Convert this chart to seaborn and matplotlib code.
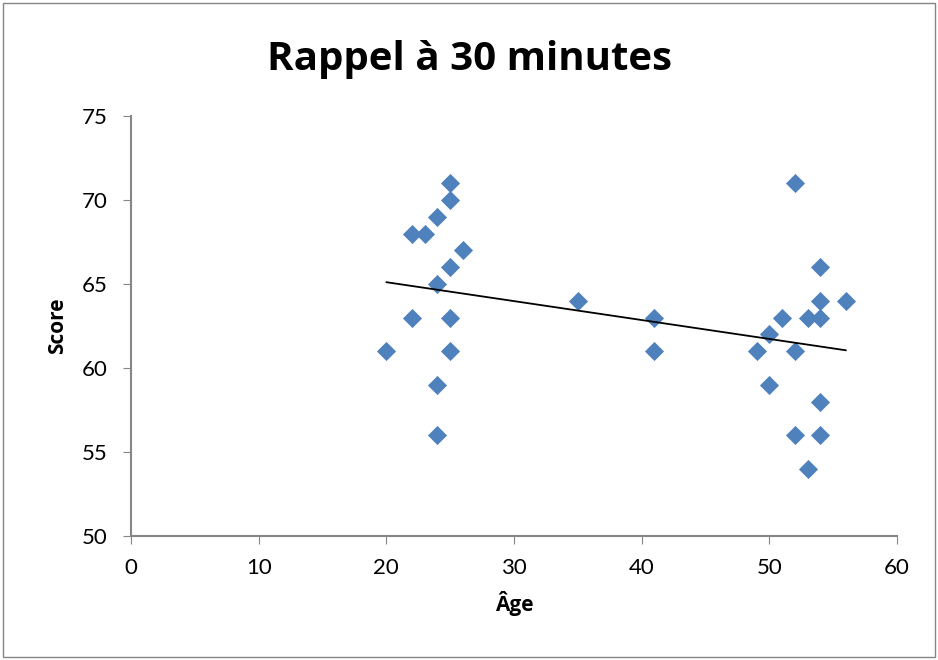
import matplotlib
matplotlib.use("Agg")
import matplotlib.pyplot as plt
import seaborn as sns
import pandas as pd

# === Data
ages = [20, 22, 22, 23, 24, 24, 24, 24, 25, 25, 25, 25, 25, 26,
        35, 41, 41,
        49, 50, 50, 51, 52, 52, 52, 53, 53, 54, 54, 54, 54, 54, 56]
scores = [61, 68, 63, 68, 69, 65, 59, 56, 71, 70, 66, 63, 61, 67,
          64, 63, 61,
          61, 62, 59, 63, 71, 61, 56, 63, 54, 66, 64, 63, 58, 56, 64]
x_ticks = [0, 10, 20, 30, 40, 50, 60]
y_ticks = [50, 55, 60, 65, 70, 75]

df = pd.DataFrame({"Âge": ages, "Score": scores})

sns.set_style("white")
plt.rcParams["font.family"] = ["Lato", "DejaVu Sans"]
plt.rcParams["text.color"] = "black"
plt.rcParams["axes.labelcolor"] = "black"
bold_font = ["Open Sans", "DejaVu Sans"]

fig = plt.figure(figsize=(9.38, 6.6), dpi=100)
ax = fig.add_axes([0.1397, 0.1879, 0.8166, 0.6363])

sns.regplot(
    data=df, x="Âge", y="Score", ax=ax, ci=None, marker="D",
    scatter_kws={"color": "#4F81BD", "s": 95, "linewidths": 0, "alpha": 1},
    line_kws={"color": "black", "linewidth": 1.3},
)

ax.set_xlim(0, 60)
ax.set_ylim(50, 75)
ax.set_xticks(x_ticks)
ax.set_yticks(y_ticks)
ax.tick_params(axis="both", labelsize=16, length=6, direction="out",
               color="#868686", labelcolor="black", left=True, bottom=True)
ax.tick_params(axis="x", pad=10)
ax.tick_params(axis="y", pad=11)
for side in ["top", "right"]:
    ax.spines[side].set_visible(False)
for side in ["left", "bottom"]:
    ax.spines[side].set_color("#868686")
    ax.spines[side].set_linewidth(1.5)

ax.set_xlabel("Âge", fontsize=15, fontweight="bold", family=bold_font, labelpad=9)
ax.set_ylabel("Score", fontsize=15, fontweight="bold", family=bold_font, labelpad=10)
fig.text(0.5, 1 - 70 / 660, "Rappel à 30 minutes", fontsize=29, fontweight="bold",
         family=bold_font, ha="center", va="baseline")

# chart border
fig.patches.append(plt.Rectangle((0.003, 0.004), 0.994, 0.992, transform=fig.transFigure,
                                 fill=False, edgecolor="#868686", linewidth=1))

fig.savefig("out.png", dpi=100)
